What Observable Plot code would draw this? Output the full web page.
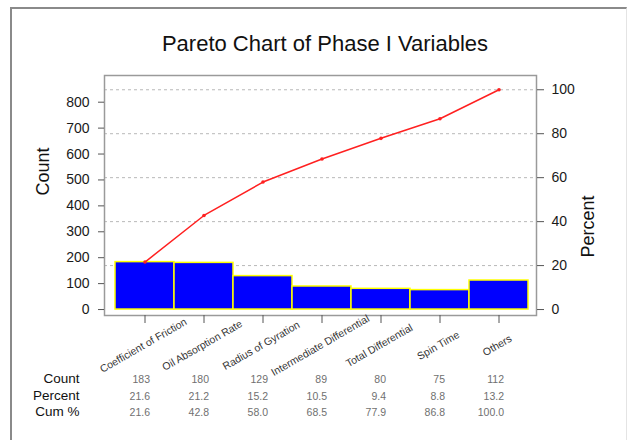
<!DOCTYPE html>
<html><head><meta charset="utf-8">
<script src="https://cdn.jsdelivr.net/npm/d3@7"></script>
<script src="https://cdn.jsdelivr.net/npm/@observablehq/plot@0.6"></script>
<style>
body{margin:0;background:#fff;font-family:Arial,"Liberation Sans",sans-serif;}
#wrap{position:relative;width:629px;height:440px;overflow:hidden;background:#fff;}
#border{position:absolute;left:10px;top:7px;width:614px;height:440px;border-left:2px solid #8a8a8a;border-top:2px solid #8a8a8a;border-right:1px solid #e4e4e4;}
#title{position:absolute;left:0;width:650px;top:31px;text-align:center;font-size:22px;color:#111;line-height:26px;}
#chart{position:absolute;left:0;top:0;}
</style></head><body>
<div id="wrap"><div id="border"></div><div id="chart"></div><div id="title">Pareto Chart of Phase I Variables</div></div>
<script>
const categories = ["Coefficient of Friction","Oil Absorption Rate","Radius of Gyration","Intermediate Differential","Total Differential","Spin Time","Others"];
const counts = [183,180,129,89,80,75,112];
const percents = [21.6,21.2,15.2,10.5,9.4,8.8,13.2];
const cumPercents = [21.6,42.8,58.0,68.5,77.9,86.8,100.0];
const countTicks = [0,100,200,300,400,500,600,700,800];
const percentTicks = [0,20,40,60,80,100];
const rowLabels = ["Count","Percent","Cum %"];

const total = d3.sum(counts);
const table = categories.map((c,i) => ({category:c, count:counts[i], percent:percents[i], cum:cumPercents[i], cumCount:cumPercents[i]*total/100}));
const rows = [
  {label:rowLabels[0], fmt:d=>String(d.count)},
  {label:rowLabels[1], fmt:d=>d.percent.toFixed(1)},
  {label:rowLabels[2], fmt:d=>d.cum.toFixed(1)}
];
const rowDy = [67, 84, 100];
const gridTicks = percentTicks.filter(p => p > 0).map(p => p*total/100);

const chart = Plot.plot({
  width: 629, height: 440,
  marginLeft: 104, marginRight: 93, marginTop: 75, marginBottom: 125,
  style: {fontFamily: "Arial, 'Liberation Sans', sans-serif", color: "#222", background: "transparent", overflow: "visible"},
  x: {domain: categories, padding: 0, insetLeft: 8, insetRight: 6},
  y: {domain: [-23, 903]},
  marks: [
    Plot.ruleY(gridTicks, {stroke: "#b8b8b8", strokeDasharray: "3,3", strokeWidth: 1}),
    Plot.barY(table, {x: "category", y: "count", fill: "#0000ff", stroke: "#ffff00", strokeWidth: 1.5}),
    Plot.line(table, {x: "category", y: "cumCount", stroke: "#ff2020", strokeWidth: 1.5}),
    Plot.dot(table, {x: "category", y: "cumCount", r: 1.8, fill: "#ff2020"}),
    Plot.frame({stroke: "#9a9a9a", strokeWidth: 1.5}),
    Plot.axisY(countTicks, {anchor: "left", tickSize: 6, tickPadding: 9, fontSize: 14, stroke: "#555", fill: "#1a1a1a", label: null}),
    Plot.axisY(percentTicks.map(p => p*total/100), {anchor: "right", tickSize: 7, tickPadding: 8, fontSize: 14, stroke: "#555", fill: "#1a1a1a", label: null, tickFormat: d => Math.round(d/total*100)}),
    Plot.axisX({tickSize: 8, tickFormat: () => "", stroke: "#555", label: null}),
    Plot.text(table, {x: "category", text: "category", frameAnchor: "bottom", dy: 33, rotate: -30, textAnchor: "middle", fontSize: 10.5, fill: "#333"}),
    ...rows.map((r, i) => Plot.text(table, {x: "category", text: r.fmt, frameAnchor: "bottom", dy: rowDy[i], dx: 5, textAnchor: "end", fontSize: 10.5, fill: "#707070"})),
    ...rows.map((r, i) => Plot.text([r.label], {frameAnchor: "bottom-left", dx: -25, dy: rowDy[i], textAnchor: "end", fontSize: 13.5, fill: "#111"})),
    Plot.text(["Count"], {frameAnchor: "left", dx: -61, rotate: -90, fontSize: 18, fill: "#111"}),
    Plot.text(["Percent"], {frameAnchor: "right", dx: 52, rotate: -90, fontSize: 18, fill: "#111"})
  ]
});
document.getElementById("chart").appendChild(chart);
</script>
</body></html>
